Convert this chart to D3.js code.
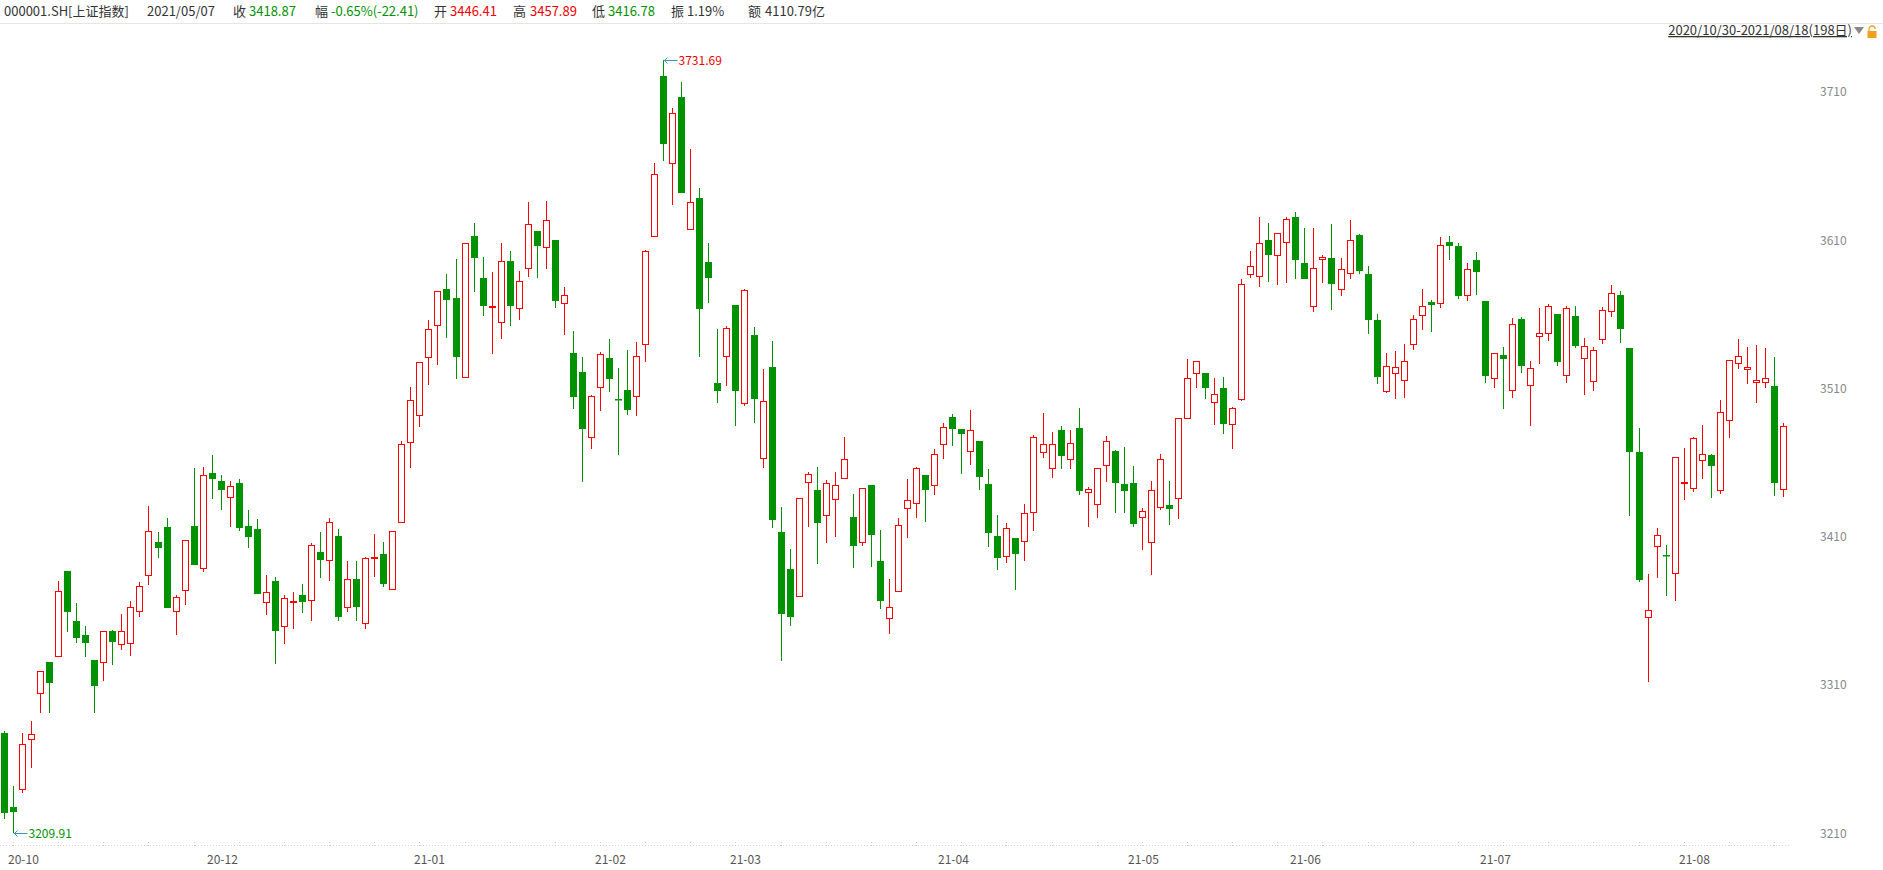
<!DOCTYPE html>
<html><head><meta charset="utf-8">
<script src="https://cdn.jsdelivr.net/npm/d3@7"></script>
<style>
html,body{margin:0;padding:0;background:#fff;}
svg{display:block;font-family:"Noto Sans CJK SC","Noto Sans",sans-serif;}
</style></head>
<body><svg id="c" width="1883" height="870"></svg>
<script>
const opens = [3277.8,3227.9,3239.6,3273.3,3304.8,3325.7,3329.3,3386.9,3353.2,3343.7,
3326.9,3325.3,3346.4,3337.4,3338.6,3359.7,3384.0,3406.5,3416.8,3359.7,
3373.9,3417.3,3388.7,3452.8,3447.6,3436.6,3446.3,3417.2,3415.2,3365.7,
3380.1,3349.6,3366.2,3370.7,3367.1,3399.7,3394.1,3410.5,3362.4,3381.5,
3351.6,3395.9,3398.1,3374.5,3420.0,3474.2,3491.9,3531.1,3552.7,3577.2,
3571.1,3518.0,3612.9,3584.6,3565.3,3554.7,3596.1,3564.1,3591.1,3616.3,
3605.3,3610.2,3567.5,3534.0,3521.2,3477.1,3510.8,3530.6,3502.7,3509.0,
3504.8,3539.8,3612.7,3720.9,3662.0,3706.7,3617.4,3638.6,3595.4,3513.7,
3531.7,3566.4,3500.0,3546.1,3462.9,3524.5,3413.0,3388.0,3369.8,3446.7,
3441.5,3424.4,3435.3,3449.4,3423.3,3406.2,3444.7,3393.4,3354.9,3373.2,
3429.2,3432.5,3451.7,3444.7,3472.4,3490.6,3482.7,3467.6,3474.6,3445.4,
3410.5,3396.8,3409.2,3406.9,3427.0,3467.0,3456.2,3482.0,3462.2,3483.4,
3440.0,3431.9,3458.2,3467.9,3445.4,3446.41,3423.1,3406.2,3429.9,3431.4,
3436.0,3490.4,3520.3,3520.5,3500.7,3510.2,3485.9,3502.7,3587.1,3585.7,
3610.0,3599.9,3608.7,3625.5,3594.5,3565.5,3597.2,3597.8,3576.9,3587.7,
3613.6,3587.3,3556.3,3508.1,3520.3,3515.5,3539.8,3559.4,3568.4,3567.5,
3609.0,3606.0,3572.9,3597.0,3569.1,3516.9,3532.4,3508.8,3556.7,3512.2,
3545.2,3547.2,3560.3,3518.9,3558.9,3530.4,3514.9,3543.2,3562.0,3573.0,
3537.4,3467.2,3355.6,3403.5,3397.7,3385.3,3446.7,3442.7,3461.6,3465.2,
3441.3,3488.6,3527.0,3523.0,3514.2,3514.2,3511.7,3442.0];
const highs = [3278.9,3241.8,3277.8,3285.9,3319.4,3325.7,3380.2,3386.9,3365.6,3349.8,
3326.9,3346.4,3347.1,3357.9,3366.9,3379.7,3430.8,3413.4,3422.9,3370.7,
3407.8,3456.6,3457.3,3465.2,3451.7,3447.6,3449.0,3428.0,3422.0,3384.2,
3383.1,3370.7,3372.7,3378.1,3405.6,3413.2,3422.6,3415.2,3393.6,3393.6,
3396.3,3411.9,3406.4,3413.7,3474.6,3511.3,3527.9,3556.3,3575.6,3587.3,
3597.4,3608.0,3621.7,3598.8,3588.6,3608.2,3602.8,3589.3,3635.9,3616.3,
3636.8,3610.2,3578.5,3548.8,3531.3,3505.7,3534.7,3543.4,3523.9,3536.0,
3541.2,3603.5,3662.2,3731.69,3699.1,3716.9,3671.6,3645.3,3608.2,3550.2,
3552.2,3566.4,3577.4,3551.5,3523.2,3542.1,3430.0,3402.0,3435.9,3453.5,
3457.1,3448.3,3453.7,3477.3,3438.9,3442.7,3444.7,3414.6,3381.5,3422.7,
3449.0,3456.8,3451.7,3469.0,3486.8,3492.8,3482.7,3495.5,3474.6,3455.7,
3424.7,3419.3,3409.2,3432.1,3478.7,3493.5,3480.7,3484.7,3482.0,3496.9,
3443.8,3456.2,3478.0,3468.5,3470.6,3457.89,3429.4,3447.6,3465.9,3447.6,
3489.9,3529.9,3528.6,3520.5,3517.1,3517.8,3497.3,3583.9,3602.8,3625.8,
3621.7,3614.7,3625.8,3629.1,3618.3,3618.3,3599.9,3621.0,3597.8,3623.7,
3614.3,3592.5,3560.3,3534.0,3535.3,3540.1,3559.6,3577.2,3569.7,3612.0,
3613.0,3608.0,3595.0,3602.0,3569.1,3533.8,3538.0,3557.6,3558.3,3528.6,
3564.3,3567.0,3560.3,3565.7,3565.7,3544.1,3538.3,3565.0,3580.0,3576.0,
3537.4,3483.4,3384.9,3415.9,3404.4,3463.6,3469.9,3477.3,3485.2,3465.6,
3502.3,3529.0,3543.4,3538.0,3539.4,3537.4,3531.3,3486.5];
const lows = [3219.4,3209.91,3237.3,3253.8,3291.3,3291.3,3329.3,3346.0,3338.6,3329.1,
3291.3,3312.9,3323.5,3333.6,3329.6,3356.1,3377.5,3395.9,3362.2,3343.7,
3364.0,3391.2,3386.4,3435.5,3428.0,3416.8,3414.1,3402.6,3371.6,3357.4,
3324.4,3337.9,3347.8,3358.8,3353.4,3382.4,3380.4,3353.4,3359.2,3353.4,
3348.0,3383.1,3375.9,3374.5,3420.0,3456.6,3484.3,3512.4,3525.9,3544.3,
3516.7,3517.4,3575.4,3559.2,3533.5,3543.7,3552.4,3556.5,3585.5,3584.8,
3590.9,3564.6,3546.4,3496.4,3446.7,3469.4,3495.1,3507.9,3465.2,3492.4,
3491.7,3528.1,3612.7,3663.5,3634.1,3642.2,3617.4,3531.5,3568.0,3500.5,
3511.9,3484.9,3498.5,3487.0,3456.6,3416.0,3326.0,3350.0,3369.8,3416.8,
3391.8,3406.0,3410.1,3449.4,3389.1,3404.0,3389.8,3361.5,3344.6,3373.2,
3409.4,3422.9,3420.2,3438.4,3462.7,3471.5,3452.6,3458.6,3441.8,3403.3,
3387.8,3392.5,3374.1,3393.9,3414.1,3463.4,3449.9,3456.0,3456.0,3438.4,
3416.8,3422.9,3447.2,3426.3,3426.3,3416.78,3401.3,3384.4,3428.3,3418.0,
3422.2,3489.5,3510.6,3502.9,3485.6,3479.6,3469.4,3501.8,3584.8,3578.7,
3582.1,3580.1,3581.4,3584.1,3584.1,3561.9,3581.4,3563.2,3572.7,3584.1,
3587.1,3546.8,3513.3,3507.2,3503.2,3503.9,3536.2,3549.7,3548.4,3564.6,
3597.0,3570.2,3569.3,3573.3,3514.0,3510.6,3496.4,3503.9,3520.7,3484.9,
3526.8,3542.3,3525.4,3514.0,3537.6,3505.9,3508.6,3540.0,3558.0,3540.9,
3424.2,3379.7,3312.2,3382.4,3370.0,3366.9,3434.8,3440.4,3449.2,3436.4,
3438.6,3476.9,3523.4,3513.3,3500.5,3510.6,3437.7,3437.1];
const closes = [3223.9,3224.5,3270.2,3276.9,3319.4,3311.6,3373.4,3359.5,3341.9,3338.6,
3309.5,3346.4,3339.2,3346.4,3362.4,3376.8,3413.7,3402.7,3362.2,3369.1,
3407.8,3391.2,3451.7,3449.2,3441.8,3444.0,3416.1,3410.1,3371.6,3372.5,
3346.6,3368.5,3366.6,3366.2,3404.2,3394.5,3419.7,3356.1,3381.3,3362.8,
3395.4,3396.3,3378.3,3413.7,3472.4,3502.1,3527.9,3550.0,3575.6,3570.0,
3531.5,3608.0,3598.3,3565.9,3565.7,3595.8,3565.9,3582.4,3620.8,3606.4,
3623.5,3569.3,3572.9,3504.5,3482.9,3504.8,3533.1,3516.7,3502.3,3495.8,
3532.0,3602.6,3654.6,3675.2,3695.7,3642.2,3635.7,3563.9,3584.6,3508.6,
3550.6,3508.6,3576.5,3503.2,3501.6,3421.0,3358.0,3356.0,3435.9,3452.1,
3419.5,3446.0,3444.7,3462.2,3404.0,3442.7,3411.4,3366.9,3362.4,3417.7,
3434.6,3456.2,3441.8,3465.6,3483.8,3482.9,3479.6,3481.8,3450.5,3412.8,
3395.9,3415.7,3398.6,3425.8,3477.1,3472.4,3472.4,3464.7,3473.0,3441.1,
3442.0,3456.2,3474.4,3446.5,3441.1,3418.87,3427.2,3441.3,3462.2,3429.0,
3489.9,3516.9,3528.5,3510.6,3506.1,3486.3,3496.7,3580.3,3592.5,3608.0,
3600.3,3614.7,3624.2,3597.0,3584.1,3591.1,3598.5,3580.3,3590.4,3610.0,
3589.5,3556.5,3518.0,3525.0,3524.3,3528.4,3556.7,3565.5,3566.6,3607.0,
3606.0,3572.7,3591.0,3588.8,3518.7,3533.8,3530.2,3553.3,3525.4,3523.6,
3547.2,3565.5,3528.1,3564.1,3538.9,3538.5,3536.0,3562.7,3574.7,3550.4,
3467.4,3381.0,3360.4,3410.9,3397.3,3463.6,3447.1,3476.4,3465.6,3458.0,
3493.9,3529.0,3531.8,3524.3,3515.5,3516.9,3446.5,3484.5];
const monthLabels = ["20-10","20-12","21-01","21-02","21-03","21-04","21-05","21-06","21-07","21-08"];
const monthStart = [0,22,45,65,80,103,124,142,163,185];
const yTicks = [3210,3310,3410,3510,3610,3710];
const header = [
  ["000001.SH[上证指数]","#333"],["2021/05/07","#333"],
  ["收","#333"],["3418.87","#009200"],["幅","#333"],["-0.65%(-22.41)","#009200"],
  ["开","#333"],["3446.41","#e00"],["高","#333"],["3457.89","#e00"],
  ["低","#333"],["3416.78","#009200"],["振","#333"],["1.19%","#333"],["额","#333"],["4110.79亿","#333"]];
const headerX = [4,147,233,249,315,331,434,450,513,530,592,608,671,687,748,765];
const rangeText = "2020/10/30-2021/08/18(198日)";

const RED = "#f00", GREEN = "#009200";
const svg = d3.select("#c");
const n = opens.length;
const x = d3.scaleBand().domain(d3.range(n)).range([0, 1788]).paddingInner(0.25).paddingOuter(0.125);
const y = d3.scaleLinear().domain([3209.91, 3731.69]).range([833.3, 60]);
const cxOf = i => Math.floor(x(i) + x.bandwidth()/2);

// header
const hg = svg.append("g").attr("font-size", 13);
header.forEach((h,k)=>{
  hg.append("text").attr("x", headerX[k]).attr("y", 16).attr("fill", h[1]).text(h[0]);
});
svg.append("line").attr("x1",0).attr("x2",1883).attr("y1",23.5).attr("y2",23.5).attr("stroke","#e6e6e6");
svg.append("text").attr("x",1852).attr("y",35).attr("text-anchor","end").attr("font-size",13)
  .attr("fill","#333").attr("text-decoration","underline").text(rangeText);
svg.append("path").attr("d","M1854,27 L1864,27 L1859,34 Z").attr("fill","#888");
// lock icon
const lk = svg.append("g").attr("transform","translate(1867,26)");
lk.append("path").attr("d","M2,5 V3 a3,3 0 0 1 6,0").attr("fill","none").attr("stroke","#f0a020").attr("stroke-width",1.3);
lk.append("rect").attr("x",0.5).attr("y",5).attr("width",9).attr("height",7).attr("fill","#f0a020");

// bottom axis
svg.append("line").attr("x1",0).attr("x2",1790).attr("y1",845.5).attr("y2",845.5)
  .attr("stroke","#d8d8d8").attr("stroke-dasharray","1,2");
const tickIdx = d3.range(1, n, 5);
svg.append("g").selectAll("line").data(tickIdx).join("line")
  .attr("x1",i=>cxOf(i)+0.5).attr("x2",i=>cxOf(i)+0.5).attr("y1",842).attr("y2",848)
  .attr("stroke","#ccc").attr("stroke-dasharray","1,2");
svg.append("g").attr("font-size",12).attr("fill","#555").selectAll("text").data(monthLabels).join("text")
  .attr("x",(d,k)=>cxOf(monthStart[k])+4).attr("y",864).text(d=>d);

// right axis
const yAxis = d3.axisRight(y).tickValues(yTicks).tickSize(0).tickPadding(0).tickFormat(d3.format("d"));
const ya = svg.append("g").attr("transform","translate(1820,0)").call(yAxis);
ya.select(".domain").remove();
ya.selectAll("text").attr("fill","#888").attr("font-size",12).attr("font-family","'Noto Sans CJK SC','Noto Sans',sans-serif");

// candles
const cg = svg.append("g");
d3.range(n).forEach(i=>{
  const cx = cxOf(i);
  const up = closes[i] >= opens[i];
  const yo = Math.round(y(opens[i])), yc = Math.round(y(closes[i]));
  const yh = Math.round(y(highs[i])), yl = Math.round(y(lows[i]));
  if (up) {
    const top = yc, bot = yo;
    if (yh < top) cg.append("line").attr("x1",cx+0.5).attr("x2",cx+0.5).attr("y1",yh).attr("y2",top).attr("stroke",RED);
    if (yl > bot) cg.append("line").attr("x1",cx+0.5).attr("x2",cx+0.5).attr("y1",bot).attr("y2",yl).attr("stroke",RED);
    cg.append("rect").attr("x",cx-2.5).attr("y",top+0.5).attr("width",6).attr("height",Math.max(bot-top,1))
      .attr("fill","#fff").attr("stroke",RED).attr("stroke-width",1);
  } else {
    cg.append("line").attr("x1",cx+0.5).attr("x2",cx+0.5).attr("y1",yh).attr("y2",yl).attr("stroke",GREEN);
    cg.append("rect").attr("x",cx-3).attr("y",yo).attr("width",7).attr("height",Math.max(yc-yo,1.5)).attr("fill",GREEN);
  }
});

// max / min annotations
function annotate(i, v, col) {
  const cx = cxOf(i) + 0.5, yy = Math.round(y(v)) + 0.5;
  const g = svg.append("g");
  g.append("line").attr("x1",cx).attr("x2",cx+14).attr("y1",yy).attr("y2",yy).attr("stroke","#3a9ab5");
  g.append("path").attr("d",`M${cx+4},${yy-3} L${cx+1},${yy} L${cx+4},${yy+3}`).attr("fill","none").attr("stroke","#3a9ab5");
  g.append("text").attr("x",cx+15).attr("y",yy+4.5).attr("font-size",12).attr("fill",col).text(v.toFixed(2));
}
const iMax = d3.maxIndex(highs), iMin = d3.minIndex(lows);
annotate(iMax, highs[iMax], "#e00");
annotate(iMin, lows[iMin], "#009200");
</script></body></html>
